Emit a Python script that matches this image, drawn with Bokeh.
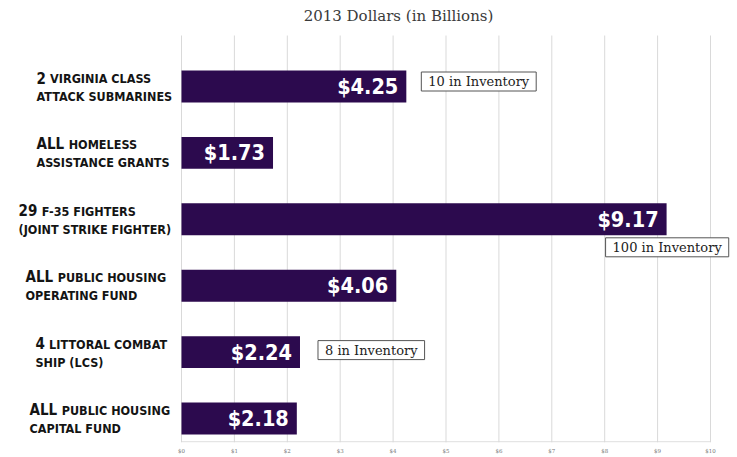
from bokeh.plotting import figure
from bokeh.models import Range1d, FixedTicker, ColumnDataSource
from bokeh.core.properties import value
from bokeh.embed import file_html
from bokeh.resources import INLINE

# ---- data ----
prefixes = ["2", "ALL", "29", "ALL", "4", "ALL"]
line1_rest = ["VIRGINIA CLASS", "HOMELESS", "F-35 FIGHTERS", "PUBLIC HOUSING", "LITTORAL COMBAT", "PUBLIC HOUSING"]
line2 = ["ATTACK SUBMARINES", "ASSISTANCE GRANTS", "(JOINT STRIKE FIGHTER)", "OPERATING FUND", "SHIP (LCS)", "CAPITAL FUND"]
amounts = [4.25, 1.73, 9.17, 4.06, 2.24, 2.18]
amount_labels = ["$4.25", "$1.73", "$9.17", "$4.06", "$2.24", "$2.18"]
inventory_rows = [0, 2, 4]
inventory_text = ["10 in Inventory", "100 in Inventory", "8 in Inventory"]
tick_vals = [0, 1, 2, 3, 4, 5, 6, 7, 8, 9, 10]
tick_labels = ["$0", "$1", "$2", "$3", "$4", "$5", "$6", "$7", "$8", "$9", "$10"]
subtitle = "2013 Dollars (in Billions)"

# ---- layout ----
W, H = 737, 457
BOTTOM = 15
PX_X = 52.9          # px per billion
X0_PX = 181          # frame px of $0
PX_Y = 66.4          # px per row
ROW0_PX = 86         # frame px of first row centre
frame_h = H - BOTTOM
x_start = -X0_PX / PX_X
x_end = x_start + W / PX_X
y_top = -ROW0_PX / PX_Y
y_bot = y_top + frame_h / PX_Y
grid_top = y_top + 35 / PX_Y

BAR = "#2c0a4e"
LABEL_FONT = "DejaVu Sans Condensed, Roboto Condensed, Arial Narrow, Liberation Sans Narrow, Roboto, sans-serif"
SERIF = "DejaVu Serif"

p = figure(width=W, height=H, output_backend="svg", toolbar_location=None,
           x_range=Range1d(x_start, x_end), y_range=Range1d(y_bot, y_top),
           min_border_left=0, min_border_right=0, min_border_top=0,
           min_border_bottom=BOTTOM)
p.outline_line_color = None
p.xgrid.visible = False
p.ygrid.visible = False
p.yaxis.visible = False
p.background_fill_color = "white"
p.border_fill_color = "white"

xa = p.xaxis[0]
xa.ticker = FixedTicker(ticks=tick_vals)
xa.major_label_overrides = {v: l for v, l in zip(tick_vals, tick_labels)}
xa.axis_line_color = None
xa.major_tick_line_color = None
xa.minor_tick_line_color = None
xa.major_tick_out = 0
xa.major_tick_in = 0
xa.minor_tick_out = 0
xa.minor_tick_in = 0
xa.major_label_standoff = 5
xa.major_label_text_font_size = "5.5px"
xa.major_label_text_color = "#777777"
xa.major_label_text_font = SERIF

# grid lines
p.segment(x0=tick_vals, x1=tick_vals, y0=[grid_top] * len(tick_vals), y1=[y_bot] * len(tick_vals),
          line_color="#d9d9d9", line_width=1)
p.segment(x0=[tick_vals[0]], x1=[tick_vals[-1]], y0=[y_bot - 0.01], y1=[y_bot - 0.01],
          line_color="#d9d9d9", line_width=1)

rows = list(range(len(amounts)))
label_left = [-145, -145, -163, -156, -146, -152]   # screen px from $0
src = ColumnDataSource(dict(y=rows, amt=amounts, lab=amount_labels, pre=prefixes,
                            l1=line1_rest, l2=line2,
                            zero=[0] * len(rows), left=label_left))
src.data["l1_off"] = [lf + (len(s) * 9.4 if s.isalpha() else len(s) * 9.6) + 4
                      for lf, s in zip(label_left, prefixes)]

p.hbar(y="y", left=0, right="amt", height=0.48, fill_color=BAR, line_color=None, source=src)

# value labels inside bars
p.text(x="amt", y="y", text="lab", source=src, x_offset=-8, text_align="right",
       text_baseline="middle", text_color="white", text_font=value(LABEL_FONT),
       text_font_style="bold", text_font_size="21.5px")

# category labels
p.text(x="zero", y="y", text="pre", source=src, x_offset="left", y_offset=-9,
       text_align="left", text_baseline="middle", text_color="#141414",
       text_font=value(LABEL_FONT), text_font_style="bold", text_font_size="15px")
p.text(x="zero", y="y", text="l1", source=src, x_offset="l1_off", y_offset=-8,
       text_align="left", text_baseline="middle", text_color="#141414",
       text_font=value(LABEL_FONT), text_font_style="bold", text_font_size="12.5px")
p.text(x="zero", y="y", text="l2", source=src, x_offset="left", y_offset=10,
       text_align="left", text_baseline="middle", text_color="#141414",
       text_font=value(LABEL_FONT), text_font_style="bold", text_font_size="12.5px")

# inventory boxes
inv_dx = [15, -61, 18]
inv_dy = [-5, 28, -2]
inv_src = ColumnDataSource(dict(x=[amounts[r] for r in inventory_rows], y=inventory_rows,
                                t=inventory_text, dx=inv_dx, dy=inv_dy))
p.text(x="x", y="y", text="t", source=inv_src, x_offset="dx", y_offset="dy",
       text_align="left", text_baseline="middle", text_color="#222222",
       text_font=value(SERIF), text_font_size="13px",
       border_line_color="#555555", border_line_width=1,
       background_fill_color="white", padding=dict(left=7, right=7, top=2, bottom=2))

# subtitle
p.text(x=[(398 - 181) / PX_X], y=[y_top + 15 / PX_Y], text=[subtitle], text_align="center",
       text_baseline="middle", text_color="#3a3a3a", text_font=value(SERIF),
       text_font_size="15px")

open("out.html", "w").write(file_html(p, INLINE))
